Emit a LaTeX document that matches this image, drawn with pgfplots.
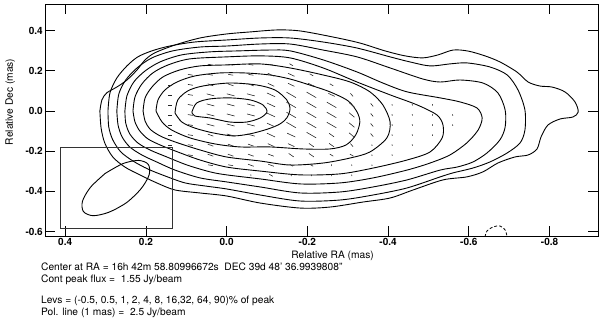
\documentclass[border=0pt]{standalone}
\usepackage{fontspec}
\setmainfont{TeX Gyre Heros}
\usepackage{pgfplots}
\usepackage{pgfplotstable}
\pgfplotsset{compat=1.18}

% polarisation sticks: centre (x,y) and half extent (hx,hy) in mas
\pgfplotstableread{
x y hx hy
0.04 0.23 0.0061 0.0022
-0.01 0.23 0.0061 0.0022
-0.06 0.23 0.0061 0.0022
-0.11 0.23 0.0061 0.0022
-0.16 0.23 0.0043 0.0050
0.09 0.18 0.0061 0.0022
0.04 0.18 0.0061 0.0022
-0.01 0.18 0.0061 0.0022
-0.06 0.18 0.0061 0.0022
-0.11 0.18 0.0079 0.0074
-0.16 0.18 0.0079 0.0074
-0.21 0.18 0.0043 0.0050
0.14 0.13 0.0050 0.0000
0.09 0.13 0.0061 0.0022
0.04 0.13 0.0070 0.0051
-0.01 0.13 0.0070 0.0051
-0.06 0.13 0.0070 0.0051
-0.11 0.13 0.0079 0.0074
-0.16 0.13 0.0079 0.0074
-0.21 0.13 0.0079 0.0074
-0.26 0.13 0.0043 0.0050
0.14 0.08 0.0050 0.0000
0.09 0.08 0.0061 0.0022
0.04 0.08 0.0096 0.0052
-0.01 0.08 0.0096 0.0052
-0.06 0.08 0.0096 0.0052
-0.11 0.08 0.0101 0.0095
-0.16 0.08 0.0118 0.0137
-0.21 0.08 0.0118 0.0137
-0.26 0.08 0.0079 0.0074
-0.31 0.08 0.0032 0.0076
0.14 0.03 0.0050 0.0000
0.09 0.03 0.0061 0.0022
0.04 0.03 0.0096 0.0052
-0.01 0.03 0.0096 0.0052
-0.06 0.03 0.0096 0.0052
-0.11 0.03 0.0101 0.0095
-0.16 0.03 0.0118 0.0137
-0.21 0.03 0.0118 0.0137
-0.26 0.03 0.0118 0.0137
-0.31 0.03 0.0066 0.0112
-0.36 0.03 0.0032 0.0076
-0.41 0.03 0.0003 0.0037
-0.46 0.03 0.0003 0.0037
-0.51 0.03 0.0003 0.0037
0.14 -0.02 0.0050 0.0000
0.09 -0.02 0.0061 0.0022
0.04 -0.02 0.0096 0.0052
-0.01 -0.02 0.0096 0.0052
-0.06 -0.02 0.0096 0.0052
-0.11 -0.02 0.0101 0.0095
-0.16 -0.02 0.0118 0.0137
-0.21 -0.02 0.0118 0.0137
-0.26 -0.02 0.0118 0.0137
-0.31 -0.02 0.0066 0.0112
-0.36 -0.02 0.0032 0.0076
-0.41 -0.02 0.0003 0.0037
-0.46 -0.02 0.0003 0.0037
-0.51 -0.02 0.0003 0.0037
-0.56 -0.02 0.0003 0.0037
0.14 -0.07 0.0050 0.0000
0.09 -0.07 0.0061 0.0022
0.04 -0.07 0.0096 0.0052
-0.01 -0.07 0.0096 0.0052
-0.06 -0.07 0.0096 0.0052
-0.11 -0.07 0.0101 0.0095
-0.16 -0.07 0.0118 0.0137
-0.21 -0.07 0.0118 0.0137
-0.26 -0.07 0.0118 0.0137
-0.31 -0.07 0.0066 0.0112
-0.36 -0.07 0.0032 0.0076
-0.41 -0.07 0.0003 0.0037
-0.46 -0.07 0.0003 0.0037
-0.51 -0.07 0.0003 0.0037
-0.56 -0.07 0.0003 0.0037
0.14 -0.12 0.0050 0.0000
0.09 -0.12 0.0061 0.0022
0.04 -0.12 0.0070 0.0051
-0.01 -0.12 0.0096 0.0052
-0.06 -0.12 0.0096 0.0052
-0.11 -0.12 0.0101 0.0095
-0.16 -0.12 0.0101 0.0095
-0.21 -0.12 0.0118 0.0137
-0.26 -0.12 0.0061 0.0086
-0.31 -0.12 0.0066 0.0112
-0.36 -0.12 0.0032 0.0076
-0.41 -0.12 0.0003 0.0037
-0.46 -0.12 0.0003 0.0037
-0.51 -0.12 0.0003 0.0037
0.14 -0.17 0.0050 0.0000
0.09 -0.17 0.0061 0.0022
0.04 -0.17 0.0070 0.0051
-0.01 -0.17 0.0070 0.0051
-0.06 -0.17 0.0070 0.0051
-0.11 -0.17 0.0079 0.0074
-0.16 -0.17 0.0079 0.0074
-0.21 -0.17 0.0061 0.0086
-0.26 -0.17 0.0061 0.0086
-0.31 -0.17 0.0032 0.0076
-0.36 -0.17 0.0003 0.0037
-0.41 -0.17 0.0003 0.0037
-0.46 -0.17 0.0003 0.0037
0.09 -0.22 0.0061 0.0022
0.04 -0.22 0.0070 0.0051
-0.01 -0.22 0.0070 0.0051
-0.06 -0.22 0.0070 0.0051
-0.11 -0.22 0.0070 0.0051
-0.16 -0.22 0.0061 0.0086
-0.21 -0.22 0.0061 0.0086
-0.26 -0.22 0.0043 0.0050
-0.31 -0.22 0.0043 0.0050
-0.36 -0.22 0.0003 0.0037
-0.41 -0.22 0.0003 0.0037
0.04 -0.27 0.0061 0.0022
-0.01 -0.27 0.0061 0.0022
-0.06 -0.27 0.0070 0.0051
-0.11 -0.27 0.0070 0.0051
-0.16 -0.27 0.0043 0.0050
-0.21 -0.27 0.0043 0.0050
-0.26 -0.27 0.0003 0.0037
-0.31 -0.27 0.0003 0.0037
-0.36 -0.27 0.0003 0.0037
-0.06 -0.32 0.0003 0.0037
-0.11 -0.32 0.0043 0.0050
-0.16 -0.32 0.0003 0.0037
-0.21 -0.32 0.0003 0.0037
-0.26 -0.32 0.0003 0.0037
-0.31 -0.32 0.0003 0.0037
}\poltab

\begin{document}
\begin{tikzpicture}
\useasboundingbox (-45pt,-85pt) rectangle (555pt,236pt);
\begin{axis}[
    name=ax,
    scale only axis,
    width=553pt, height=232pt,
    x dir=reverse,
    xmin=-0.920, xmax=0.450,
    ymin=-0.622, ymax=0.532,
    xtick={0.4,0.2,0,-0.2,-0.4,-0.6,-0.8},
    xticklabels={0.4,0.2,0.0,-0.2,-0.4,-0.6,-0.8},
    ytick={-0.6,-0.4,-0.2,0,0.2,0.4},
    yticklabels={-0.6,-0.4,-0.2,0.0,0.2,0.4},
    tick align=inside,
    major tick length=10pt,
    tick style={black, line width=0.8pt},
    axis line style={line width=0.8pt},
    ticklabel style={font=\fontsize{10}{11}\selectfont\bfseries},
    xticklabel style={inner sep=2pt},
    yticklabel style={inner sep=2pt},
    xlabel={Relative RA (mas)},
    ylabel={Relative Dec (mas)},
    label style={font=\fontsize{10.2}{12}\selectfont},
    xlabel style={at={(axis description cs:0.52,0)}, anchor=base, yshift=-23pt},
    ylabel style={at={(axis description cs:-0.058,0.578)}, anchor=base},
    clip=true,
]
% contours, outermost (0.5%) to innermost (90%)
\addplot[black, line width=0.9pt, smooth] coordinates {
(0.314,0) (0.309,0.055) (0.297,0.090) (0.272,0.119) (0.247,0.154) (0.222,0.204)
(0.202,0.254) (0.178,0.289) (0.128,0.328) (0.066,0.363) (0.000,0.383) (-0.058,0.393)
(-0.125,0.403) (-0.182,0.398) (-0.263,0.368) (-0.330,0.338) (-0.392,0.299) (-0.442,0.274)
(-0.486,0.264) (-0.524,0.279) (-0.561,0.303) (-0.598,0.298) (-0.640,0.274) (-0.677,0.244)
(-0.719,0.194) (-0.747,0.144) (-0.776,0.124) (-0.806,0.119) (-0.838,0.095) (-0.863,0.045)
(-0.871,-0.005) (-0.858,-0.030) (-0.826,-0.040) (-0.796,-0.070) (-0.779,-0.129) (-0.769,-0.189)
(-0.747,-0.219) (-0.714,-0.229) (-0.672,-0.259) (-0.635,-0.303) (-0.595,-0.328) (-0.536,-0.343)
(-0.462,-0.393) (-0.405,-0.433) (-0.338,-0.453) (-0.256,-0.478) (-0.182,-0.483) (-0.083,-0.458)
(0.000,-0.423) (0.066,-0.408) (0.128,-0.393) (0.173,-0.358) (0.215,-0.318) (0.252,-0.279)
(0.282,-0.229) (0.302,-0.159) (0.311,-0.085) (0.314,0)
};
\addplot[black, line width=0.9pt, smooth] coordinates {
(0.294,0) (0.289,0.090) (0.272,0.164) (0.247,0.224) (0.220,0.269) (0.185,0.299)
(0.141,0.323) (0.079,0.343) (0.000,0.353) (-0.083,0.363) (-0.157,0.363) (-0.239,0.343)
(-0.323,0.313) (-0.405,0.269) (-0.454,0.244) (-0.504,0.224) (-0.553,0.234) (-0.595,0.239)
(-0.652,0.219) (-0.695,0.179) (-0.722,0.104) (-0.739,0.005) (-0.739,-0.095) (-0.727,-0.159)
(-0.695,-0.209) (-0.652,-0.254) (-0.610,-0.284) (-0.561,-0.308) (-0.529,-0.328) (-0.447,-0.383)
(-0.363,-0.418) (-0.281,-0.443) (-0.182,-0.448) (-0.083,-0.418) (0.000,-0.388) (0.054,-0.373)
(0.103,-0.358) (0.153,-0.323) (0.195,-0.289) (0.232,-0.249) (0.262,-0.204) (0.282,-0.144)
(0.292,-0.080) (0.294,0)
};
\addplot[black, line width=0.9pt, smooth] coordinates {
(0.272,0) (0.267,0.085) (0.250,0.154) (0.222,0.214) (0.185,0.264) (0.133,0.299)
(0.066,0.318) (0.000,0.323) (-0.083,0.333) (-0.157,0.333) (-0.239,0.303) (-0.323,0.269)
(-0.405,0.214) (-0.486,0.159) (-0.529,0.144) (-0.578,0.154) (-0.635,0.139) (-0.672,0.090)
(-0.690,0.005) (-0.690,-0.080) (-0.677,-0.144) (-0.645,-0.209) (-0.610,-0.254) (-0.571,-0.279)
(-0.529,-0.294) (-0.447,-0.343) (-0.363,-0.378) (-0.281,-0.403) (-0.182,-0.408) (-0.083,-0.378)
(0.000,-0.353) (0.066,-0.333) (0.128,-0.294) (0.173,-0.254) (0.210,-0.219) (0.240,-0.179)
(0.259,-0.129) (0.269,-0.070) (0.272,0)
};
\addplot[black, line width=0.9pt, smooth] coordinates {
(0.252,0) (0.247,0.075) (0.230,0.144) (0.202,0.199) (0.165,0.244) (0.111,0.279)
(0.041,0.294) (-0.033,0.299) (-0.107,0.303) (-0.157,0.299) (-0.239,0.254) (-0.323,0.194)
(-0.387,0.139) (-0.447,0.095) (-0.529,0.065) (-0.578,0.045) (-0.620,0.015) (-0.633,-0.035)
(-0.623,-0.095) (-0.595,-0.159) (-0.553,-0.219) (-0.504,-0.259) (-0.447,-0.294) (-0.363,-0.333)
(-0.281,-0.358) (-0.182,-0.363) (-0.083,-0.338) (0.000,-0.318) (0.041,-0.303) (0.098,-0.269)
(0.148,-0.229) (0.190,-0.194) (0.220,-0.159) (0.240,-0.114) (0.250,-0.060) (0.252,0)
};
\addplot[black, line width=0.9pt, smooth] coordinates {
(0.232,0) (0.227,0.070) (0.210,0.134) (0.183,0.189) (0.145,0.229) (0.091,0.259)
(0.000,0.269) (-0.083,0.274) (-0.157,0.264) (-0.239,0.214) (-0.323,0.144) (-0.405,0.080)
(-0.472,0.030) (-0.521,-0.020) (-0.536,-0.070) (-0.534,-0.134) (-0.504,-0.204) (-0.447,-0.244)
(-0.363,-0.284) (-0.281,-0.313) (-0.182,-0.318) (-0.083,-0.299) (0.000,-0.279) (0.066,-0.244)
(0.121,-0.204) (0.165,-0.169) (0.195,-0.139) (0.215,-0.100) (0.227,-0.055) (0.232,0)
};
\addplot[black, line width=0.9pt, smooth] coordinates {
(0.207,0) (0.202,0.065) (0.185,0.119) (0.158,0.169) (0.116,0.204) (0.066,0.224)
(0.000,0.229) (-0.083,0.234) (-0.157,0.214) (-0.239,0.179) (-0.306,0.144) (-0.355,0.095)
(-0.387,0.030) (-0.405,-0.055) (-0.397,-0.134) (-0.355,-0.204) (-0.306,-0.234) (-0.239,-0.259)
(-0.157,-0.269) (-0.083,-0.249) (0.000,-0.229) (0.066,-0.194) (0.128,-0.154) (0.165,-0.124)
(0.190,-0.090) (0.202,-0.050) (0.207,0)
};
\addplot[black, line width=0.9pt, smooth] coordinates {
(0.175,0) (0.170,0.055) (0.153,0.104) (0.123,0.144) (0.079,0.174) (0.017,0.189)
(-0.045,0.189) (-0.107,0.179) (-0.157,0.159) (-0.206,0.129) (-0.256,0.095) (-0.301,0.050)
(-0.323,-0.005) (-0.330,-0.055) (-0.320,-0.119) (-0.296,-0.169) (-0.256,-0.189) (-0.189,-0.189)
(-0.107,-0.179) (-0.033,-0.179) (0.029,-0.164) (0.091,-0.134) (0.136,-0.095) (0.160,-0.055)
(0.175,0)
};
\addplot[black, line width=0.9pt, smooth] coordinates {
(0.128,-0.010) (0.121,0.055) (0.096,0.100) (0.059,0.124) (-0.008,0.139) (-0.075,0.129)
(-0.120,0.104) (-0.149,0.055) (-0.157,0.010) (-0.149,-0.035) (-0.132,-0.065) (-0.102,-0.090)
(-0.058,-0.114) (-0.016,-0.124) (0.034,-0.109) (0.079,-0.085) (0.111,-0.055) (0.128,-0.010)
};
\addplot[black, line width=0.9pt, smooth] coordinates {
(0.086,-0.005) (0.074,0.040) (0.041,0.060) (-0.008,0.065) (-0.058,0.055) (-0.090,0.030)
(-0.100,-0.005) (-0.083,-0.035) (-0.050,-0.055) (-0.008,-0.055) (0.041,-0.035) (0.079,-0.025)
(0.086,-0.005)
};
% negative contour (-0.5%)
\addplot[black, line width=0.8pt, smooth, dash pattern=on 3pt off 2pt] coordinates {
(-0.640,-0.627) (-0.645,-0.597) (-0.660,-0.577) (-0.677,-0.572) (-0.690,-0.592) (-0.695,-0.627)
};
% polarisation sticks
\addplot[black!85, line width=0.6pt,
    quiver={u=-2*\thisrow{hx}, v=-2*\thisrow{hy}}]
    table[x expr=\thisrow{x}+\thisrow{hx}, y expr=\thisrow{y}+\thisrow{hy}] {\poltab};
% beam and its box
\addplot[black, line width=0.9pt, smooth] coordinates {
(0.301,-0.311) (0.337,-0.379) (0.357,-0.448) (0.355,-0.500) (0.331,-0.521) (0.292,-0.504)
(0.248,-0.456) (0.212,-0.387) (0.192,-0.318) (0.194,-0.266) (0.218,-0.246) (0.257,-0.262)
(0.301,-0.311)
};
\addplot[black!80, line width=0.9pt] coordinates {
(0.411,-0.181) (0.135,-0.181) (0.135,-0.584) (0.411,-0.584) (0.411,-0.181)
};
\end{axis}
\begin{scope}[every node/.style={anchor=base west, inner sep=0pt, font=\fontsize{10.2}{12}\selectfont}]
\node at (-4pt,-35pt) {Center at RA = 16h 42m 58.80996672s\ \ DEC 39d 48' 36.9939808''};
\node at (-4pt,-47pt) {Cont peak flux = \ 1.55 Jy/beam};
\node at (-4pt,-68pt) {Levs = (-0.5, 0.5, 1, 2, 4, 8, 16,32, 64, 90)\% of peak};
\node at (-4pt,-80pt) {Pol. line (1 mas) = \ 2.5 Jy/beam};
\end{scope}
\end{tikzpicture}
\end{document}
